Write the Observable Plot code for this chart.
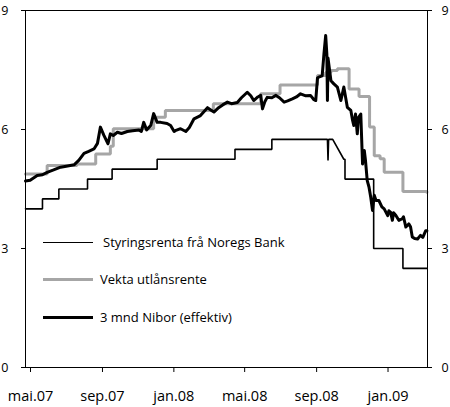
<!DOCTYPE html>
<html>
<head>
<meta charset="utf-8">
<script src="https://cdn.jsdelivr.net/npm/d3@7"></script>
<script src="https://cdn.jsdelivr.net/npm/@observablehq/plot@0.6"></script>
<style>
  body { margin: 0; background: white; font-family: "Open Sans", sans-serif; }
  #wrap { position: relative; width: 450px; height: 407px; }
  .leg { position: absolute; left: 43px; height: 20px; display: flex; align-items: center; font-size: 13px; color: black; white-space: nowrap; }
  .sw { display: inline-block; width: 50px; }
</style>
</head>
<body>
<div id="wrap"></div>
<script>
// Categories / tick labels
const xTickDates = ["2007-05-01","2007-09-01","2008-01-01","2008-05-01","2008-09-01","2009-01-01"];
const xTickLabels = ["mai.07","sep.07","jan.08","mai.08","sep.08","jan.09"];
const yTicks = [0, 3, 6, 9];
const seriesNames = ["Styringsrenta frå Noregs Bank", "Vekta utlånsrente", "3 mnd Nibor (effektiv)"];

// Styringsrenta frå Noregs Bank
const styrDates = ["2007-05-01","2007-05-30","2007-05-30","2007-06-27","2007-06-27","2007-08-15","2007-08-15","2007-09-26","2007-09-26","2007-12-12","2007-12-12","2008-04-23","2008-04-23","2008-06-25","2008-06-25","2008-09-28","2008-09-29","2008-09-30","2008-10-07","2008-10-26","2008-10-28","2008-10-28","2008-12-16","2008-12-16","2009-02-04","2009-02-04","2009-03-17"];
const styrValues = [4.00,4.00,4.25,4.25,4.50,4.50,4.75,4.75,5.00,5.00,5.25,5.25,5.50,5.50,5.75,5.75,5.22,5.75,5.75,5.25,5.25,4.75,4.75,3.00,3.00,2.50,2.50];

// Vekta utlånsrente (step series)
const vektaDates = ["2007-05-01","2007-06-07","2007-07-28","2007-08-29","2007-09-23","2007-09-28","2007-12-06","2007-12-26","2008-03-17","2008-06-06","2008-07-09","2008-09-11","2008-09-25","2008-10-04","2008-10-15","2008-11-04","2008-11-21","2008-12-09","2008-12-17","2008-12-27","2009-01-03","2009-02-04","2009-03-17"];
const vektaValues = [4.88,5.09,5.13,5.38,5.58,6.02,6.31,6.48,6.65,6.90,7.12,7.36,7.44,7.49,7.53,7.02,6.83,6.06,5.34,5.26,4.92,4.44,4.42];

// 3 mnd Nibor (effektiv)
const niborDates = ["2007-05-01","2007-05-09","2007-05-21","2007-05-30","2007-06-07","2007-06-18","2007-06-30","2007-07-12","2007-07-23","2007-07-31","2007-08-09","2007-08-17","2007-08-26","2007-09-01","2007-09-06","2007-09-12","2007-09-19","2007-09-23","2007-09-28","2007-10-05","2007-10-12","2007-10-22","2007-10-31","2007-11-11","2007-11-15","2007-11-19","2007-11-24","2007-12-01","2007-12-06","2007-12-12","2007-12-18","2007-12-29","2008-01-04","2008-01-10","2008-01-12","2008-01-21","2008-01-30","2008-02-05","2008-02-13","2008-02-24","2008-03-07","2008-03-12","2008-03-18","2008-03-26","2008-04-02","2008-04-10","2008-04-17","2008-04-27","2008-05-04","2008-05-14","2008-05-20","2008-05-25","2008-06-01","2008-06-06","2008-06-09","2008-06-13","2008-06-17","2008-06-25","2008-07-02","2008-07-08","2008-07-16","2008-07-22","2008-07-30","2008-08-06","2008-08-13","2008-08-22","2008-08-30","2008-09-05","2008-09-08","2008-09-11","2008-09-13","2008-09-19","2008-09-22","2008-09-25","2008-09-27","2008-09-28","2008-09-29","2008-10-04","2008-10-09","2008-10-15","2008-10-21","2008-10-26","2008-11-01","2008-11-07","2008-11-10","2008-11-12","2008-11-15","2008-11-18","2008-11-20","2008-11-24","2008-11-27","2008-11-30","2008-12-02","2008-12-05","2008-12-08","2008-12-11","2008-12-14","2008-12-17","2008-12-20","2008-12-25","2008-12-30","2009-01-03","2009-01-09","2009-01-11","2009-01-14","2009-01-17","2009-01-19","2009-01-23","2009-01-28","2009-02-03","2009-02-05","2009-02-09","2009-02-14","2009-02-17","2009-02-20","2009-02-24","2009-03-01","2009-03-06","2009-03-10","2009-03-15","2009-03-17"];
const niborValues = [4.70,4.72,4.84,4.86,4.92,4.98,5.05,5.08,5.11,5.22,5.40,5.45,5.51,5.65,6.06,5.85,5.64,5.89,5.85,5.93,5.90,5.95,5.97,5.99,5.95,6.18,5.99,6.10,6.40,6.18,6.18,6.15,6.10,5.95,5.97,6.02,5.95,6.05,6.27,6.35,6.55,6.50,6.44,6.55,6.62,6.69,6.65,6.68,6.80,6.94,6.85,6.73,6.82,6.86,6.52,6.70,6.81,6.80,6.86,6.80,6.69,6.72,6.77,6.82,6.90,6.85,6.86,6.75,6.73,7.30,7.32,7.35,7.90,8.37,7.90,6.73,7.80,7.23,7.15,7.07,6.73,7.07,6.56,6.48,6.23,6.10,6.39,5.89,6.30,6.39,5.13,5.47,5.22,4.71,4.55,4.29,3.96,4.34,4.21,4.21,4.05,4.00,3.83,3.95,3.91,3.71,3.90,3.83,3.71,3.75,3.80,3.54,3.62,3.55,3.29,3.25,3.24,3.33,3.28,3.45,3.45];

const colors = ["#000000", "#a6a6a6", "#000000"];
const widths = [1.6, 3, 3];

const toRows = (dates, values) => dates.map((d, i) => ({date: new Date(d), value: values[i]}));
const styr = toRows(styrDates, styrValues);
const vekta = toRows(vektaDates, vektaValues);
const nibor = toRows(niborDates, niborValues);

const labelMap = new Map(xTickDates.map((d, i) => [+new Date(d), xTickLabels[i]]));

const chart = Plot.plot({
  width: 450,
  height: 407,
  marginLeft: 25,
  marginRight: 23,
  marginTop: 10,
  marginBottom: 40,
  style: {fontFamily: "Open Sans, sans-serif", color: "black", background: "white", overflow: "visible"},
  x: {type: "utc", domain: [new Date("2007-05-01"), new Date("2009-03-18")]},
  y: {domain: [0, 9]},
  marks: [
    Plot.axisY({anchor: "left", ticks: yTicks, tickSize: 4, tickPadding: 13, fontSize: 12.5, label: null}),
    Plot.axisY({anchor: "right", ticks: yTicks, tickSize: 4, tickPadding: 10, fontSize: 12.5, label: null}),
    Plot.axisX({ticks: xTickDates.map(d => new Date(d)), tickFormat: d => labelMap.get(+d), tickSize: 5, tickPadding: 18, fontSize: 14.5, dx: 5, label: null}),
    Plot.line(styr, {x: "date", y: "value", stroke: colors[0], strokeWidth: widths[0], strokeLinejoin: "miter"}),
    Plot.line(vekta, {x: "date", y: "value", curve: "step-after", stroke: colors[1], strokeWidth: widths[1], strokeLinejoin: "miter"}),
    Plot.line(nibor, {x: "date", y: "value", stroke: colors[2], strokeWidth: widths[2]}),
    Plot.frame({stroke: "black"})
  ]
});

const wrap = document.getElementById("wrap");
wrap.appendChild(chart);

// Legend overlay inside the plot area
const legendTops = [232, 269, 307];
const textOffsets = [10, 7, 7];
seriesNames.forEach((name, i) => {
  const row = document.createElement("div");
  row.className = "leg";
  row.style.top = legendTops[i] + "px";
  const sw = document.createElement("span");
  sw.className = "sw";
  sw.style.borderTop = `${i === 0 ? 1.6 : 3.5}px solid ${colors[i]}`;
  const tx = document.createElement("span");
  tx.textContent = name;
  tx.style.marginLeft = textOffsets[i] + "px";
  row.appendChild(sw);
  row.appendChild(tx);
  wrap.appendChild(row);
});
</script>
</body>
</html>
